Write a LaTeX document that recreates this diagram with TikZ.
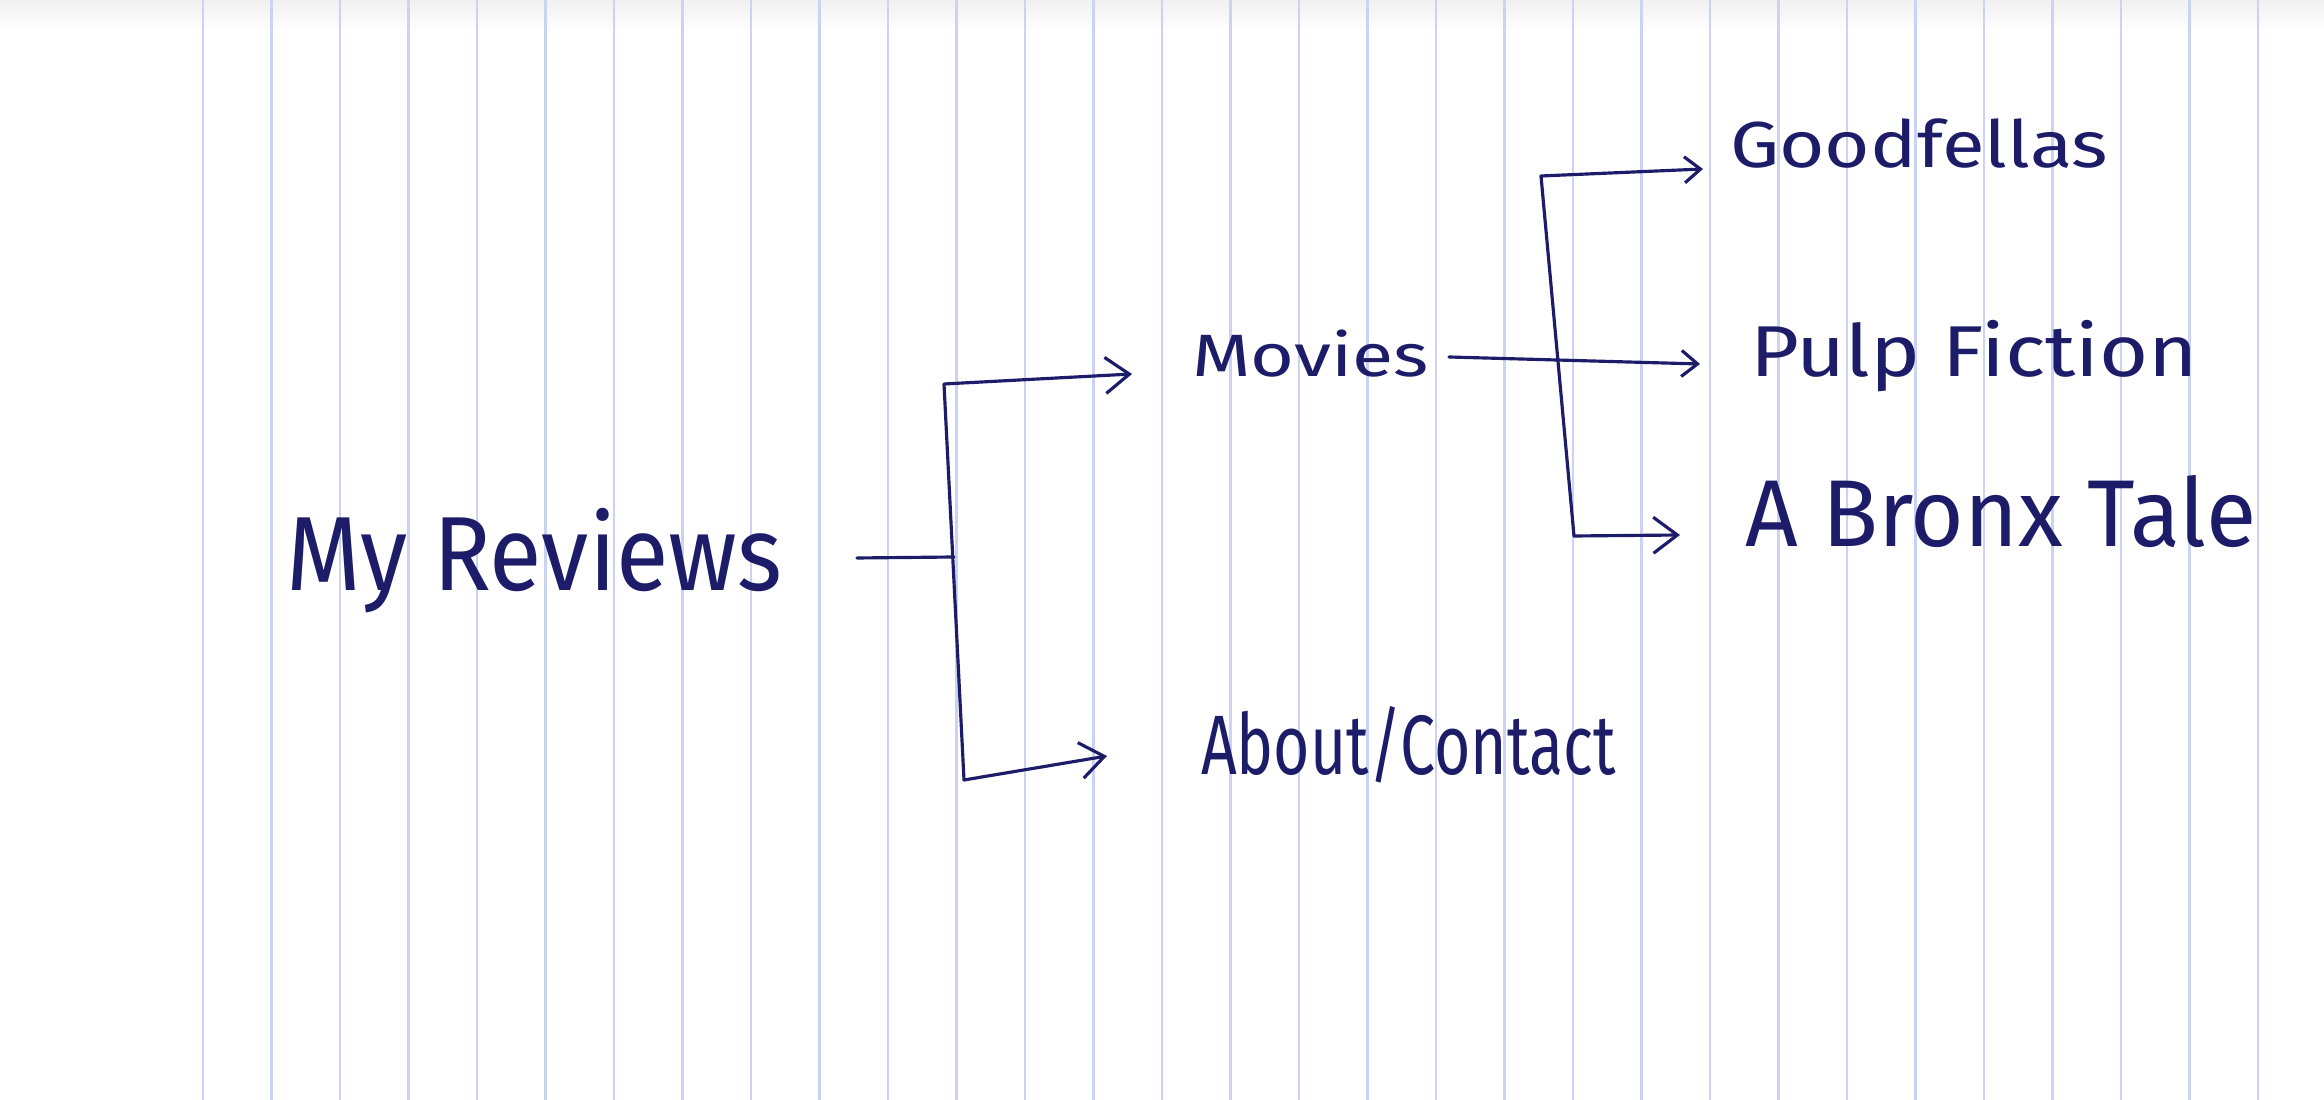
\documentclass[tikz,border=0pt]{standalone}
\usepackage{fontspec}
\setmainfont{Fira Sans}
\usetikzlibrary{arrows.meta}
\definecolor{ink}{RGB}{28,28,105}
\definecolor{ruleblue}{RGB}{202,211,243}
\newcommand{\lbl}[3]{\fontsize{#1}{#1}\selectfont\scalebox{#2}[1]{#3}}
\begin{document}
\begin{tikzpicture}[x=0.1mm,y=-0.1mm,
  txt/.style={anchor=base west,inner sep=0pt,outer sep=0pt,text=ink},
  conn/.style={draw=ink,line width=0.9pt,line cap=round,line join=round},
  arr/.style={conn,-{Straight Barb[length=2.4mm,width=3.6mm,line width=0.9pt]}},
  arrs/.style={conn,-{Straight Barb[length=1.6mm,width=2.6mm,line width=0.9pt]}},
  ruled/.style={draw=ruleblue,line width=0.6pt}]
\fill[white] (0,0) rectangle (2324,1100);
\shade[top color=black!6,bottom color=white] (0,0) rectangle (2324,30);
\useasboundingbox (0,0) rectangle (2324,1100);
\foreach \k in {0,...,30} \draw[ruled] ({203+68.5*\k},0) -- ({203+68.5*\k},1100);
% text nodes
\node[txt] (mr) at (286,591) {\lbl{30pt}{0.91}{My Reviews}};
\node[txt] (mov) at (1192,377) {\lbl{17pt}{1.26}{Movies}};
\node[txt] (abt) at (1201,775) {\lbl{24pt}{0.74}{About/Contact}};
\node[txt] (gf) at (1730,168) {\lbl{18.5pt}{1.2}{Goodfellas}};
\node[txt] (pf) at (1750,377) {\lbl{20.5pt}{1.17}{Pulp Fiction}};
\node[txt] (bt) at (1745,547) {\lbl{27pt}{0.97}{A Bronx Tale}};
% connector points
\coordinate (r0) at (857,558);
\coordinate (j1t) at (944,384);
\coordinate (j1m) at (954,557);
\coordinate (j1b) at (964,780);
\coordinate (t1) at (1132,374);
\coordinate (t2) at (1107,756);
\coordinate (m0) at (1449,357);
\coordinate (j2t) at (1541,176);
\coordinate (j2b) at (1574,536);
\coordinate (t3) at (1703,169);
\coordinate (t4) at (1700,364);
\coordinate (t5) at (1680,535);
% connectors
\draw[conn] (r0) -- (j1m);
\draw[arr] (j1b) -- (j1t) -- (t1);
\draw[arr] (j1b) -- (t2);
\draw[arrs] (m0) -- (t4);
\draw[arrs] (j2b) -- (j2t) -- (t3);
\draw[arr] (j2b) -- (t5);
\end{tikzpicture}
\end{document}
